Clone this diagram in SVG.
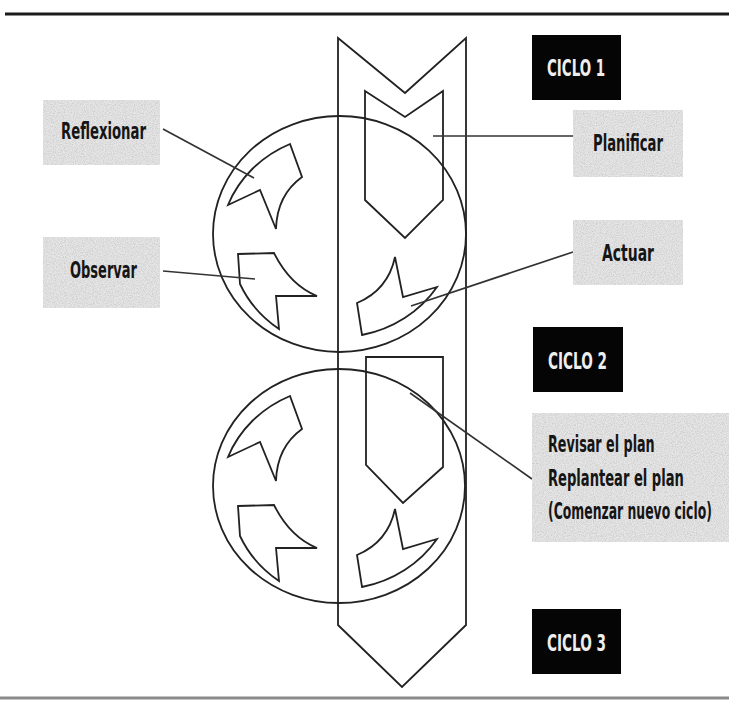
<svg xmlns="http://www.w3.org/2000/svg" width="729" height="704" viewBox="0 0 729 704">
<style>
.ln{fill:none;stroke:#222;stroke-width:1.8;stroke-linejoin:miter}
.con{fill:none;stroke:#333;stroke-width:1.7}
.lbl{font-family:"DejaVu Sans Condensed","DejaVu Sans",sans-serif;font-weight:bold;font-size:23px;fill:#151515}
.cic{font-family:"DejaVu Sans Condensed","DejaVu Sans",sans-serif;font-weight:bold;font-size:23px;fill:#eeeeee}
.gray{fill:#e6e6e6}
.blk{fill:#050505}
</style>
<defs>
<filter id="speck" x="0" y="0" width="1" height="1">
<feTurbulence type="fractalNoise" baseFrequency="0.9" numOctaves="2" seed="3" result="n"/>
<feColorMatrix in="n" type="matrix" values="0 0 0 0 0.6  0 0 0 0 0.6  0 0 0 0 0.6  0 0 0 -2.2 1.4" result="d"/>
<feComposite in="d" in2="SourceGraphic" operator="in" result="dm"/>
<feMerge><feMergeNode in="SourceGraphic"/><feMergeNode in="dm"/></feMerge>
</filter>
<g id="cycle">
<path class="ln" d="M228,205 L260,190 L276,229 Q277,195 302,177 L290,144 A118 110 0 0 0 228,205 Z"/>
<path class="ln" d="M238,254 L274,253 Q290,285 317,296 L276,296 L279,329 A118 110 0 0 1 240,284 Z"/>
<path class="ln" d="M357,303 Q388,290 395,257 L403,297 L437,287 A118 110 0 0 1 362,335 Z"/>
</g>
</defs>
<rect width="729" height="704" fill="#fff"/>
<line x1="5" y1="14" x2="729" y2="14" stroke="#1a1a1a" stroke-width="3"/>
<line x1="0" y1="698" x2="729" y2="698" stroke="#8a8a8a" stroke-width="3"/>

<g id="arrow">
<path class="ln" d="M338,38 L405,93 L466,38 L466,625 L402,687 L338,625 Z"/>
</g>
<g id="circle1">
<ellipse class="ln" cx="339.5" cy="234" rx="126.5" ry="118"/>
<use href="#cycle"/>
</g>
<g id="circle2">
<ellipse class="ln" cx="339" cy="486" rx="126" ry="117"/>
<use href="#cycle" transform="translate(0,252)"/>
</g>
<g id="plan1">
<path class="ln" d="M365,91 L405,117 L443,91 L443,200 L405,238 L365,200 Z"/>
</g>
<g id="plan2">
<path class="ln" d="M366,357 L443,357 L443,467 L403,503 L366,465 Z"/>
</g>

<g id="connectors">
<line class="con" x1="163" y1="129" x2="254" y2="178"/>
<line class="con" x1="163" y1="271" x2="255" y2="279"/>
<line class="con" x1="433" y1="136" x2="573" y2="136"/>
<line class="con" x1="411" y1="306" x2="573" y2="252"/>
<line class="con" x1="410" y1="393" x2="532" y2="479"/>
</g>

<g id="reflexionar">
<rect class="gray" x="43" y="100" width="117" height="65" filter="url(#speck)"/>
<text class="lbl" x="61" y="139" textLength="85" lengthAdjust="spacingAndGlyphs">Reflexionar</text>
</g>
<g id="observar">
<rect class="gray" x="43" y="237" width="117" height="71" filter="url(#speck)"/>
<text class="lbl" x="70" y="278" textLength="67" lengthAdjust="spacingAndGlyphs">Observar</text>
</g>
<g id="planificar">
<rect class="gray" x="573" y="110" width="110" height="67" filter="url(#speck)"/>
<text class="lbl" x="593" y="151" textLength="70" lengthAdjust="spacingAndGlyphs">Planificar</text>
</g>
<g id="actuar">
<rect class="gray" x="573" y="220" width="110" height="65" filter="url(#speck)"/>
<text class="lbl" x="602" y="261" textLength="52" lengthAdjust="spacingAndGlyphs">Actuar</text>
</g>
<g id="revisar">
<rect class="gray" x="532" y="413" width="197" height="129" filter="url(#speck)"/>
<g transform="translate(548,0) scale(0.55,1)">
<text class="lbl" x="0" y="452" textLength="194" lengthAdjust="spacingAndGlyphs">Revisar el plan</text>
<text class="lbl" x="0" y="486" textLength="247" lengthAdjust="spacingAndGlyphs">Replantear el plan</text>
<text class="lbl" x="0" y="519" textLength="298" lengthAdjust="spacingAndGlyphs">(Comenzar nuevo ciclo)</text>
</g>
</g>
<g id="ciclo1">
<rect class="blk" x="532" y="35" width="89" height="65"/>
<text class="cic" x="547" y="76" textLength="58" lengthAdjust="spacingAndGlyphs">CICLO 1</text>
</g>
<g id="ciclo2">
<rect class="blk" x="533" y="327" width="90" height="65"/>
<text class="cic" x="548" y="369" textLength="59" lengthAdjust="spacingAndGlyphs">CICLO 2</text>
</g>
<g id="ciclo3">
<rect class="blk" x="532" y="609" width="89" height="65"/>
<text class="cic" x="547" y="651" textLength="59" lengthAdjust="spacingAndGlyphs">CICLO 3</text>
</g>
</svg>
